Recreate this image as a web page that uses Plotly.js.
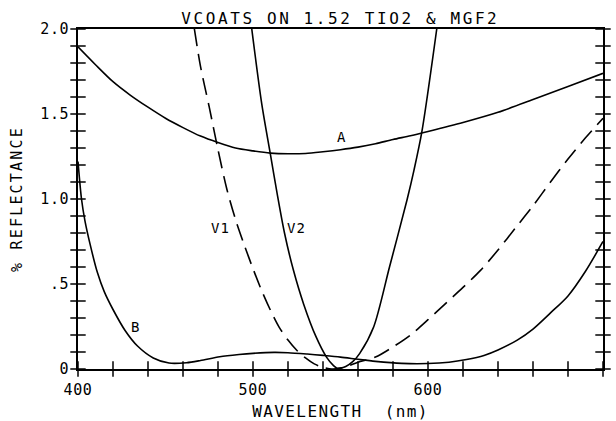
<!DOCTYPE html>
<html>
<head>
<meta charset="utf-8">
<script src="https://cdn.plot.ly/plotly-3.0.1.min.js"></script>
<style>
  html, body { margin: 0; padding: 0; background: #fff; }
  #chart { width: 616px; height: 421px; }
  .gtitle { letter-spacing: 2.6px; }
  .xtitle { letter-spacing: 1.4px; }
  .ytitle { letter-spacing: 2.2px; }
  .xtick text, .ytick text { letter-spacing: 0.6px; }
  .annotation-text { letter-spacing: 1px; }
</style>
</head>
<body>
<div id="chart"></div>
<script>
// Curve A
const wavelengthA = [400, 410, 420, 430, 440, 450, 460, 470, 480, 490, 500, 510, 520, 530, 540, 550, 560, 570, 580, 590, 600, 620, 640, 660, 680, 700];
const reflA       = [1.895, 1.79, 1.69, 1.61, 1.54, 1.475, 1.42, 1.37, 1.332, 1.30, 1.283, 1.27, 1.266, 1.268, 1.278, 1.29, 1.305, 1.325, 1.35, 1.372, 1.397, 1.45, 1.51, 1.585, 1.662, 1.739];

// Curve B
const wavelengthB = [400, 402, 404, 407, 411, 415, 420, 427, 434, 443, 452, 462, 470, 481, 492, 500, 512, 520, 531, 540, 550, 560, 570, 585, 600, 612, 622, 632, 640, 651, 660, 670, 680, 690, 700];
const reflB       = [1.22, 1.0, 0.87, 0.73, 0.57, 0.455, 0.35, 0.225, 0.135, 0.065, 0.035, 0.037, 0.05, 0.072, 0.085, 0.092, 0.098, 0.096, 0.088, 0.08, 0.07, 0.057, 0.045, 0.033, 0.032, 0.04, 0.056, 0.08, 0.112, 0.17, 0.235, 0.33, 0.43, 0.575, 0.75];

// Curve V1 (dashed)
const wavelengthV1 = [466.5, 470, 475, 480, 485, 490, 495, 500, 505, 510, 515, 520, 525, 530, 535, 540, 545, 550, 555, 560, 570, 580, 590, 600, 610, 620, 630, 640, 650, 660, 670, 680, 690, 700];
const reflV1       = [2.0, 1.78, 1.54, 1.29, 1.06, 0.88, 0.73, 0.59, 0.46, 0.345, 0.245, 0.17, 0.11, 0.065, 0.03, 0.01, 0.0, 0.005, 0.02, 0.04, 0.07, 0.13, 0.2, 0.29, 0.385, 0.48, 0.58, 0.7, 0.83, 0.96, 1.1, 1.235, 1.36, 1.475];

// Curve V2 (solid)
const wavelengthV2 = [499.3, 505, 510, 514, 518, 523, 529, 536, 542, 546, 548, 550, 553, 557, 561, 569, 578, 588, 592, 596.5, 605];
const reflV2       = [2.0, 1.56, 1.26, 1.02, 0.8, 0.585, 0.38, 0.19, 0.07, 0.02, 0.005, 0.005, 0.015, 0.043, 0.092, 0.249, 0.6, 0.994, 1.17, 1.396, 2.0];

// Curve labels
const labelText = ["A", "B", "V1", "V2"];
const labelX    = [550.7, 432.6, 481.2, 525.0];
const labelY    = [1.366, 0.249, 0.828, 0.831];

// Tick positions and labels (labels only on the major ones)
const xTickVals = [400, 420, 440, 460, 480, 500, 520, 540, 560, 580, 600, 620, 640, 660, 680, 700];
const xTickText = ["400", "", "", "", "", "500", "", "", "", "", "600", "", "", "", "", "700"];
const yTickVals = [0, 0.1, 0.2, 0.3, 0.4, 0.5, 0.6, 0.7, 0.8, 0.9, 1.0, 1.1, 1.2, 1.3, 1.4, 1.5, 1.6, 1.7, 1.8, 1.9, 2.0];
const yTickText = ["0", "", "", "", "", ".5", "", "", "", "", "1.0", "", "", "", "", "1.5", "", "", "", "", "2.0"];

const FONT = "DejaVu Sans Mono, Liberation Mono, monospace";
const lineStyle = {color: "#000", width: 1.6, shape: "spline", smoothing: 0.8};

const traces = [
  {x: wavelengthA, y: reflA, mode: "lines", line: lineStyle, name: "A"},
  {x: wavelengthB, y: reflB, mode: "lines", line: lineStyle, name: "B"},
  {x: wavelengthV1, y: reflV1, mode: "lines", line: Object.assign({}, lineStyle, {dash: "17px,8px"}), name: "V1"},
  {x: wavelengthV2, y: reflV2, mode: "lines", line: lineStyle, name: "V2"}
];

// Tick marks drawn as line-shaped markers sitting on the axes (crossing the axis line)
const yMin = 0, xLeft = 400, xRight = 700;
const tickMarker = (sym) => ({symbol: sym, size: 11, color: "#000", line: {color: "#000", width: 1.5}});
traces.push({x: xTickVals, y: xTickVals.map(() => yMin), mode: "markers", cliponaxis: false,
             marker: tickMarker("line-ns-open"), hoverinfo: "skip", name: "xticks"});
traces.push({x: yTickVals.map(() => xLeft), y: yTickVals, mode: "markers", cliponaxis: false,
             marker: tickMarker("line-ew-open"), hoverinfo: "skip", name: "yticksL"});
traces.push({x: yTickVals.map(() => xRight), y: yTickVals, mode: "markers", cliponaxis: false,
             marker: tickMarker("line-ew-open"), hoverinfo: "skip", name: "yticksR"});

const annotations = labelText.map((t, i) => ({
  x: labelX[i], y: labelY[i], xref: "x", yref: "y", text: t, showarrow: false,
  font: {family: FONT, size: 14, color: "#000"}
}));

const layout = {
  width: 616, height: 421,
  margin: {l: 78, r: 13, t: 29, b: 52},
  paper_bgcolor: "#fff", plot_bgcolor: "#fff",
  showlegend: false,
  font: {family: FONT, color: "#000"},
  title: {text: "VCOATS ON 1.52 TIO2 & MGF2", font: {family: FONT, size: 16, color: "#000"},
          x: 0.5525, xanchor: "center", y: 0.957, yref: "container", yanchor: "middle"},
  xaxis: {
    range: [400, 700], tickmode: "array", tickvals: xTickVals, ticktext: xTickText,
    ticks: "", ticklabelstandoff: 6,
    showgrid: false, zeroline: false, showline: true, linecolor: "#000", linewidth: 1.8, mirror: true,
    tickfont: {family: FONT, size: 15, color: "#000"},
    title: {text: "WAVELENGTH  (nm)", font: {family: FONT, size: 16, color: "#000"}, standoff: 9}
  },
  yaxis: {
    range: [0, 2.0], tickmode: "array", tickvals: yTickVals, ticktext: yTickText,
    ticks: "", ticklabelstandoff: 4,
    showgrid: false, zeroline: false, showline: true, linecolor: "#000", linewidth: 1.8, mirror: true,
    tickfont: {family: FONT, size: 15, color: "#000"},
    title: {text: "% REFLECTANCE", font: {family: FONT, size: 15, color: "#000"}, standoff: 14}
  },
  annotations: annotations
};

Plotly.newPlot("chart", traces, layout, {staticPlot: true, displayModeBar: false});
</script>
</body>
</html>
